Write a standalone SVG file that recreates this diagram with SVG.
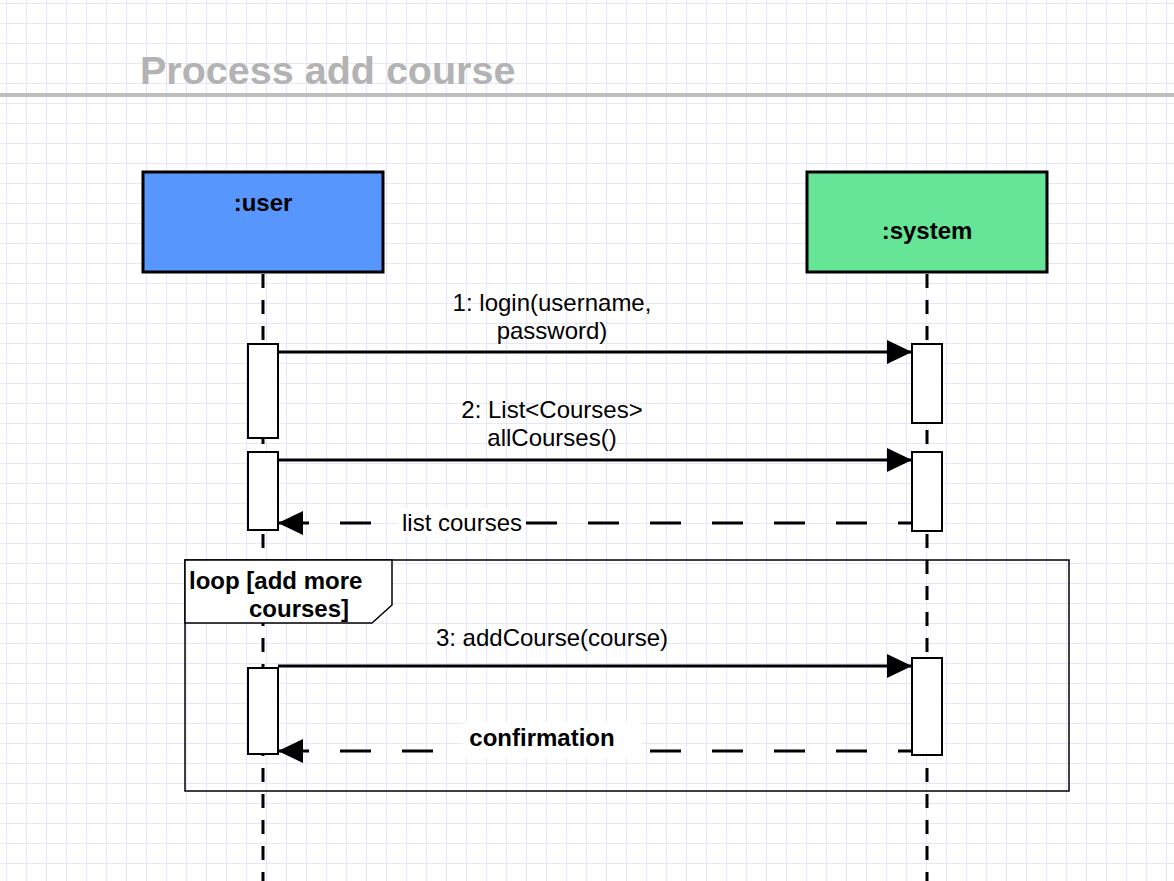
<svg xmlns="http://www.w3.org/2000/svg" width="1174" height="881" viewBox="0 0 1174 881">
<style>
.t{font-family:"Liberation Sans",Arial,sans-serif;font-size:24px;fill:#000}
.b{font-weight:bold}
.act{fill:#fff;stroke:#000;stroke-width:2}
.life{stroke:#000;stroke-width:3;stroke-dasharray:14 12;fill:none}
.msg{stroke:#000;stroke-width:3;fill:none}
.ret{stroke:#000;stroke-width:3;stroke-dasharray:31 31;stroke-dashoffset:17;fill:none}
</style>
<defs>
<pattern id="grid" x="6" y="3" width="20" height="20" patternUnits="userSpaceOnUse">
<path d="M0 0H20M0 0V20" stroke="#e0e0fa" stroke-width="1.6" fill="none"/>
</pattern>
<marker id="ah" markerWidth="26" markerHeight="26" refX="25" refY="12" orient="auto" markerUnits="userSpaceOnUse">
<path d="M0 0L25 12L0 24Z" fill="#000"/>
</marker>
</defs>
<rect width="1174" height="881" fill="#fff"/>
<rect width="1174" height="881" fill="url(#grid)"/>
<g id="title">
<text x="140" y="84" font-family="Liberation Sans,Arial,sans-serif" font-size="39.5" font-weight="bold" fill="#b3b3b3">Process add course</text>
<rect x="0" y="93" width="1174" height="4" fill="#bdbdbd"/>
</g>
<g id="lifelines">
<line class="life" x1="263" y1="274" x2="263" y2="881"/>
<line class="life" x1="927" y1="274" x2="927" y2="881"/>
</g>
<g id="user">
<rect x="143" y="172" width="240" height="100" fill="#5797fd" stroke="#000" stroke-width="3"/>
<text class="t b" x="263" y="211" text-anchor="middle">:user</text>
</g>
<g id="system">
<rect x="807" y="172" width="240" height="100" fill="#66e596" stroke="#000" stroke-width="3"/>
<text class="t b" x="927" y="239" text-anchor="middle">:system</text>
</g>
<g id="loop">
<rect x="185" y="560" width="884" height="231" fill="none" stroke="#000" stroke-width="1.5"/>
<path d="M185 560H392V605L372 623H185Z" fill="#fff" stroke="#000" stroke-width="1.5"/>
<text class="t b" x="189" y="589">loop [add more</text>
<text class="t b" x="249" y="617">courses]</text>
</g>
<g id="activations">
<rect class="act" x="248" y="344" width="30" height="94"/>
<rect class="act" x="248" y="452" width="30" height="78"/>
<rect class="act" x="248" y="668" width="30" height="86"/>
<rect class="act" x="912" y="344" width="30" height="79"/>
<rect class="act" x="912" y="452" width="30" height="79"/>
<rect class="act" x="912" y="658" width="30" height="97"/>
</g>
<g id="connectors">
<line class="msg" x1="278" y1="352" x2="912" y2="352" marker-end="url(#ah)"/>
<line class="msg" x1="278" y1="460" x2="912" y2="460" marker-end="url(#ah)"/>
<line class="ret" x1="912" y1="523" x2="278" y2="523" marker-end="url(#ah)"/>
<line class="msg" x1="278" y1="666" x2="912" y2="666" marker-end="url(#ah)"/>
<line class="ret" x1="912" y1="751" x2="278" y2="751" marker-end="url(#ah)"/>
</g>
<g id="labels">
<text class="t" x="552" y="311" text-anchor="middle">1: login(username,</text>
<text class="t" x="552" y="339" text-anchor="middle">password)</text>
<text class="t" x="552" y="418" text-anchor="middle">2: List&lt;Courses&gt;</text>
<text class="t" x="552" y="446" text-anchor="middle">allCourses()</text>
<rect x="397" y="508" width="128" height="30" fill="#fff"/>
<text class="t" x="462" y="531" text-anchor="middle">list courses</text>
<text class="t" x="552" y="646" text-anchor="middle">3: addCourse(course)</text>
<rect x="463" y="722" width="179" height="36" fill="#fff"/>
<text class="t b" x="542" y="746" text-anchor="middle">confirmation</text>
</g>
</svg>
